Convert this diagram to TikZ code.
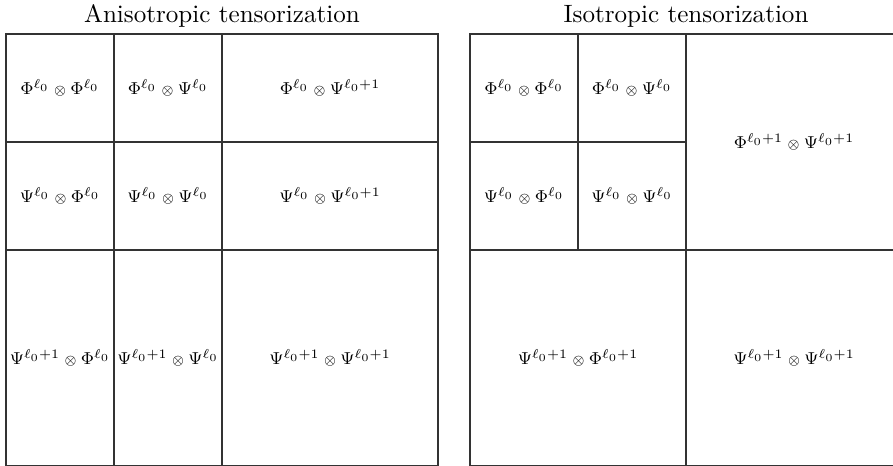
\documentclass[tikz,border=0pt]{standalone}
\usepackage{amsmath,amssymb}
\usepackage{graphicx}
\usepackage{tikz}
\usetikzlibrary{positioning}

\newcommand{\tens}{\mathbin{\scriptstyle\otimes}}
\newcommand{\lbl}[1]{\scalebox{0.92}{$#1$}}

\begin{document}
\begin{tikzpicture}[
  x=0.015cm, y=-0.015cm,
  cell/.style n args={2}{rectangle, draw=black!80, line width=0.8pt,
              minimum width=#1, minimum height=#2, inner sep=0pt,
              font=\footnotesize},
  title/.style={font=\fontsize{10.7}{13}\selectfont, inner sep=0pt}
]
\useasboundingbox (0,0) rectangle (893,466);

%% Anisotropic
\node[cell={1.62cm}{1.62cm}] (aPP) at (60,88)  {\lbl{\Phi^{\ell_0}\tens\Phi^{\ell_0}}};
\node[cell={1.62cm}{1.62cm}] (aPS) at (168,88) {\lbl{\Phi^{\ell_0}\tens\Psi^{\ell_0}}};
\node[cell={3.24cm}{1.62cm}] (aPN) at (330,88) {\lbl{\Phi^{\ell_0}\tens\Psi^{\ell_0+1}}};
\node[cell={1.62cm}{1.62cm}] (aSP) at (60,196)  {\lbl{\Psi^{\ell_0}\tens\Phi^{\ell_0}}};
\node[cell={1.62cm}{1.62cm}] (aSS) at (168,196) {\lbl{\Psi^{\ell_0}\tens\Psi^{\ell_0}}};
\node[cell={3.24cm}{1.62cm}] (aSN) at (330,196) {\lbl{\Psi^{\ell_0}\tens\Psi^{\ell_0+1}}};
\node[cell={1.62cm}{3.24cm}] (aNP) at (60,358)  {\lbl{\Psi^{\ell_0+1}\tens\Phi^{\ell_0}}};
\node[cell={1.62cm}{3.24cm}] (aNS) at (168,358) {\lbl{\Psi^{\ell_0+1}\tens\Psi^{\ell_0}}};
\node[cell={3.24cm}{3.24cm}] (aNN) at (330,358) {\lbl{\Psi^{\ell_0+1}\tens\Psi^{\ell_0+1}}};

%% Isotropic
\node[cell={1.62cm}{1.62cm}] (iPP) at (524,88)  {\lbl{\Phi^{\ell_0}\tens\Phi^{\ell_0}}};
\node[cell={1.62cm}{1.62cm}] (iPS) at (632,88)  {\lbl{\Phi^{\ell_0}\tens\Psi^{\ell_0}}};
\node[cell={1.62cm}{1.62cm}] (iSP) at (524,196) {\lbl{\Psi^{\ell_0}\tens\Phi^{\ell_0}}};
\node[cell={1.62cm}{1.62cm}] (iSS) at (632,196) {\lbl{\Psi^{\ell_0}\tens\Psi^{\ell_0}}};
\node[cell={3.24cm}{3.24cm}] (iPN) at (794,142) {\lbl{\Phi^{\ell_0+1}\tens\Psi^{\ell_0+1}}};
\node[cell={3.24cm}{3.24cm}] (iNP) at (578,358) {\lbl{\Psi^{\ell_0+1}\tens\Phi^{\ell_0+1}}};
\node[cell={3.24cm}{3.24cm}] (iNN) at (794,358) {\lbl{\Psi^{\ell_0+1}\tens\Psi^{\ell_0+1}}};

%% Titles
\node[title] (aniso) at (222,16) {Anisotropic tensorization};
\node[title] (iso)   at (686,16) {Isotropic tensorization};
\end{tikzpicture}
\end{document}
